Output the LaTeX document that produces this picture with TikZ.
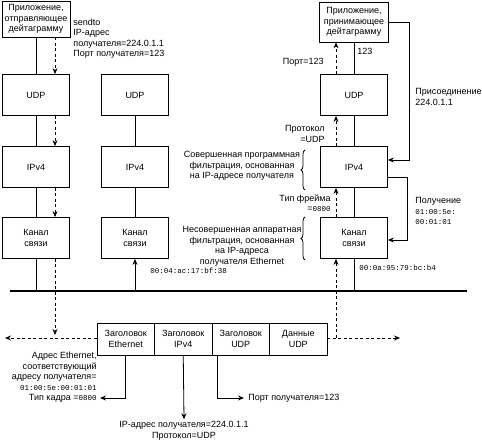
\documentclass[tikz,border=0pt]{standalone}
\usepackage{fontspec}
\setmainfont{Liberation Sans}
\setmonofont{Liberation Mono}
\usepackage{tikz}
\usetikzlibrary{arrows.meta, decorations.pathreplacing}
\newcommand{\addr}[1]{{\fontsize{7.5}{10.5}\ttfamily #1}}
\tikzstyle{arrow} = [->,>={Stealth[length=6pt,width=5pt]}]
\tikzstyle{darrow} = [arrow, dash pattern=on 3pt off 2.5pt]
\tikzstyle{layer} = [draw, minimum width=67pt, minimum height=41pt, align=center, inner sep=1pt]
\tikzstyle{hdr} = [draw, minimum width=57.5pt, minimum height=32pt, align=center, inner sep=0pt]
\tikzstyle{lbl} = [inner sep=0pt]
\tikzstyle{brc} = [decorate, decoration={brace, amplitude=4pt}]

\begin{document}
\begin{tikzpicture}[x=1pt, y=-1pt, line width=0.8pt, font=\fontsize{9}{10.5}\selectfont]
                \useasboundingbox (0,0) rectangle (482,443);

                % Applications
                \node[layer, minimum width=68pt, minimum height=36pt] (A1) at (36,19) {Приложение,\\отправляющее\\дейтаграмму};
                \node[layer, minimum width=69pt, minimum height=40pt] (A3) at (354,22) {Приложение,\\принимающее\\дейтаграмму};

                % Protocol stacks of the three hosts
                \foreach \c/\x in {1/36, 2/135, 3/354} {
                \node[layer] (U\c) at (\x,95) {UDP};
                \node[layer] (I\c) at (\x,167) {IPv4};
                \node[layer] (K\c) at (\x,238) {Канал\\связи};
                \draw (U\c) -- (I\c);
                \draw (I\c) -- (K\c);
                }
                \draw (A1) -- (U1);
                \draw (A3) -- (U3);

                % Ethernet
                \coordinate (busL) at (10,291);
                \coordinate (busR) at (467,291);
                \draw[line width=2pt] (busL) -- (busR);
                \draw (K1.south) -- (K1.south |- busL);
                \draw[arrow] (K2.south |- busL) -- (K2.south);
                \draw (K3.south |- busL) -- (K3.south);

                % Frame
                \foreach \i/\t in {1/{Заголовок\\Ethernet}, 2/{Заголовок\\IPv4}, 3/{Заголовок\\UDP}, 4/{Данные\\UDP}}
                \node[hdr] (F\i) at ({68.25+57.5*\i},339) {\t};
                \coordinate (endL) at (5,338);
                \coordinate (endR) at (400,338);
                \draw[darrow] ([yshift=1pt]F1.west) -- (endL);
                \draw[darrow] ([yshift=1pt]F4.east) -- (endR);

                % Path of the datagram
                \draw[darrow] ([xshift=19pt]A1.south) -- ([xshift=19pt]U1.north);
                \draw[darrow] ([xshift=19pt]U1.south) -- ([xshift=19pt]I1.north);
                \draw[darrow] ([xshift=19pt]I1.south) -- ([xshift=19pt]K1.north);
                \draw[darrow] ([xshift=19pt]K1.south) -- ([xshift=19pt,yshift=3pt]K1.south |- endL);
                \draw[darrow] ([xshift=-18pt]K3.south |- endR) -- ([xshift=-18pt]K3.south);
                \draw[darrow] ([xshift=-18pt]K3.north) -- ([xshift=-18pt]I3.south);
                \draw[darrow] ([xshift=-18pt]I3.north) -- ([xshift=-18pt]U3.south);
                \draw[darrow] ([xshift=-18pt]U3.north) -- ([xshift=-18pt]A3.south);

                % Sender labels
                \node[lbl, anchor=west, align=left] (snd) at (73,38.5) {sendto\\IP-адрес\\получателя=224.0.1.1\\Порт получателя=123};
                \node[lbl, anchor=west] (mac2) at (150,271) {\addr{00:04:ac:17:bf:38}};

                % Receiver labels
                \node[lbl, anchor=west] (p123) at (357,51) {123};
                \node[lbl, anchor=east] (port3) at (324,62) {Порт=123};
                \node[lbl, anchor=east, align=right] (proto3) at (325,134) {Протокол\\=UDP};
                \node[lbl, anchor=east, align=right] (type3) at (331,203) {Тип фрейма\\=\addr{0800}};
                \node[lbl, anchor=west] (mac3) at (359,268) {\addr{00:0a:95:79:bc:b4}};
                \node[lbl, align=center] (soft) at (242,166) {Совершенная программная\\фильтрация, основанная\\на IP-адресе получателя};
                \node[lbl, align=center] (hard) at (242,246.5) {Несовершенная аппаратная\\фильтрация, основанная\\на IP-адреса\\получателя Ethernet};
                \draw[brc] (305,190) -- (305,150);
                \draw[brc] (305,260) -- (305,217);

                % Group membership
                \draw[arrow] (A3.east) -- ++(20,0) |- ([yshift=7pt]I3.east);
                \draw[arrow] ([yshift=-10pt]I3.east) -- ++(19,0) |- ([yshift=-2pt]K3.east);
                \node[lbl, anchor=west, align=left] (join) at (415,97) {Присоединение\\224.0.1.1};
                \node[lbl, anchor=west, align=left] (recv) at (415,211) {Получение\\\addr{01:00:5e:}\\\addr{00:01:01}};

                % Frame fields
                \node[lbl, anchor=east, align=right] (ethaddr) at (97,371.5) {Адрес Ethernet,\\соответствующий\\адресу получателя=\\\addr{01:00:5e:00:01:01}};
                \node[lbl, anchor=east] (ethtype) at (97,398) {Тип кадра =\addr{0800}};
                \node[lbl, align=center] (iplbl) at (184,431) {IP-адрес получателя=224.0.1.1\\Протокол=UDP};
                \node[lbl, anchor=west] (udplbl) at (248,398) {Порт получателя=123};
                \draw[arrow] (F1.south) |- ([xshift=3pt]ethtype.east);
                \draw[arrow] (F2.south) -- ([yshift=2pt]iplbl.north);
                \draw[arrow] ([xshift=6pt]F3.south west) |- ([xshift=-4pt]udplbl.west);
            \end{tikzpicture}
\end{document}
